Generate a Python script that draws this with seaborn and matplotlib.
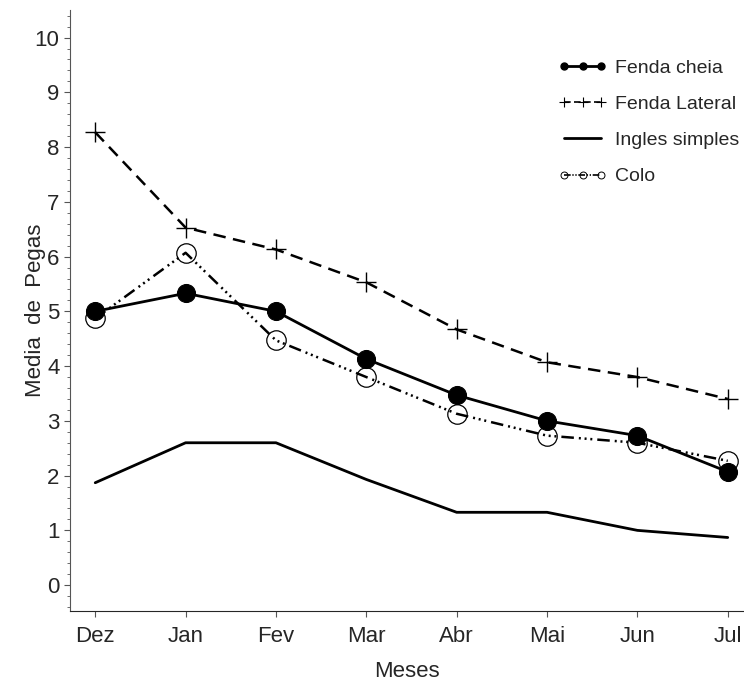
import matplotlib
matplotlib.use("Agg")
import matplotlib.pyplot as plt
from matplotlib.lines import Line2D
from matplotlib.ticker import MultipleLocator
import seaborn as sns
import pandas as pd

# dados
meses = ["Dez", "Jan", "Fev", "Mar", "Abr", "Mai", "Jun", "Jul"]
fenda_cheia = [5.0, 5.33, 5.0, 4.13, 3.47, 3.0, 2.73, 2.07]
fenda_lateral = [8.27, 6.53, 6.13, 5.53, 4.67, 4.07, 3.8, 3.4]
ingles_simples = [1.87, 2.6, 2.6, 1.93, 1.33, 1.33, 1.0, 0.87]
colo = [4.87, 6.07, 4.47, 3.8, 3.13, 2.73, 2.6, 2.27]

sns.set_style("ticks")
plt.rcParams["font.family"] = ["Liberation Sans", "DejaVu Sans"]

df = pd.DataFrame({"mes": range(len(meses)),
                   "Fenda cheia": fenda_cheia,
                   "Fenda Lateral": fenda_lateral,
                   "Ingles simples": ingles_simples,
                   "Colo": colo})

fig = plt.figure(figsize=(7.44, 6.81), dpi=100)
ax = fig.add_axes([0.094, 0.103, 0.906, 0.882])

sns.lineplot(data=df, x="mes", y="Fenda cheia", ax=ax, color="black", lw=2,
             marker="o", markersize=13, markeredgecolor="black")
sns.lineplot(data=df, x="mes", y="Fenda Lateral", ax=ax, color="black", lw=1.8,
             dashes=(5, 3), marker="+", markersize=15, markeredgewidth=1, markeredgecolor="black")
sns.lineplot(data=df, x="mes", y="Ingles simples", ax=ax, color="black", lw=2)
sns.lineplot(data=df, x="mes", y="Colo", ax=ax, color="black", lw=1.8,
             dashes=(5, 2, 0.8, 1.5, 0.8, 1.5, 0.8, 2), marker="o", markersize=14,
             fillstyle="none", markeredgewidth=0.9, markeredgecolor="black")

ax.set_xlim(-0.28, 7.18)
ax.set_ylim(-0.47, 10.5)
ax.set_xticks(range(len(meses)))
ax.set_xticklabels(meses)
ax.set_yticks(range(0, 11))
ax.yaxis.set_minor_locator(MultipleLocator(0.2))
ax.tick_params(axis="both", labelsize=16, length=4, width=0.8, color="#555555")
ax.tick_params(axis="x", pad=7)
ax.tick_params(axis="y", which="minor", length=2, width=0.6, color="#555555")
ax.set_xlabel("Meses", fontsize=16, labelpad=10)
ax.set_ylabel("Media  de  Pegas", fontsize=16)
ax.yaxis.set_label_coords(-0.036, 0.5)
sns.despine(ax=ax)
ax.spines["left"].set_color("#555555")

# legenda
handles = [
    Line2D([], [], color="black", lw=2, marker="o", markersize=5),
    Line2D([], [], color="black", lw=1.2, dashes=(4, 2), marker="+", markersize=7, markeredgewidth=0.8),
    Line2D([], [], color="black", lw=2),
    Line2D([], [], color="black", lw=1.2, dashes=(4, 1, 0.8, 1, 0.8, 1), marker="o", markersize=5,
           fillstyle="none", markeredgewidth=0.7),
]
labels = ["Fenda cheia", "Fenda Lateral", "Ingles simples", "Colo"]
ax.legend(handles, labels, loc="upper left", bbox_to_anchor=(0.725, 0.918), frameon=False,
          borderpad=0, borderaxespad=0, numpoints=3, fontsize=14, handlelength=2.5,
          handletextpad=0.4, labelspacing=0.95)

fig.savefig("out.png", dpi=100)
